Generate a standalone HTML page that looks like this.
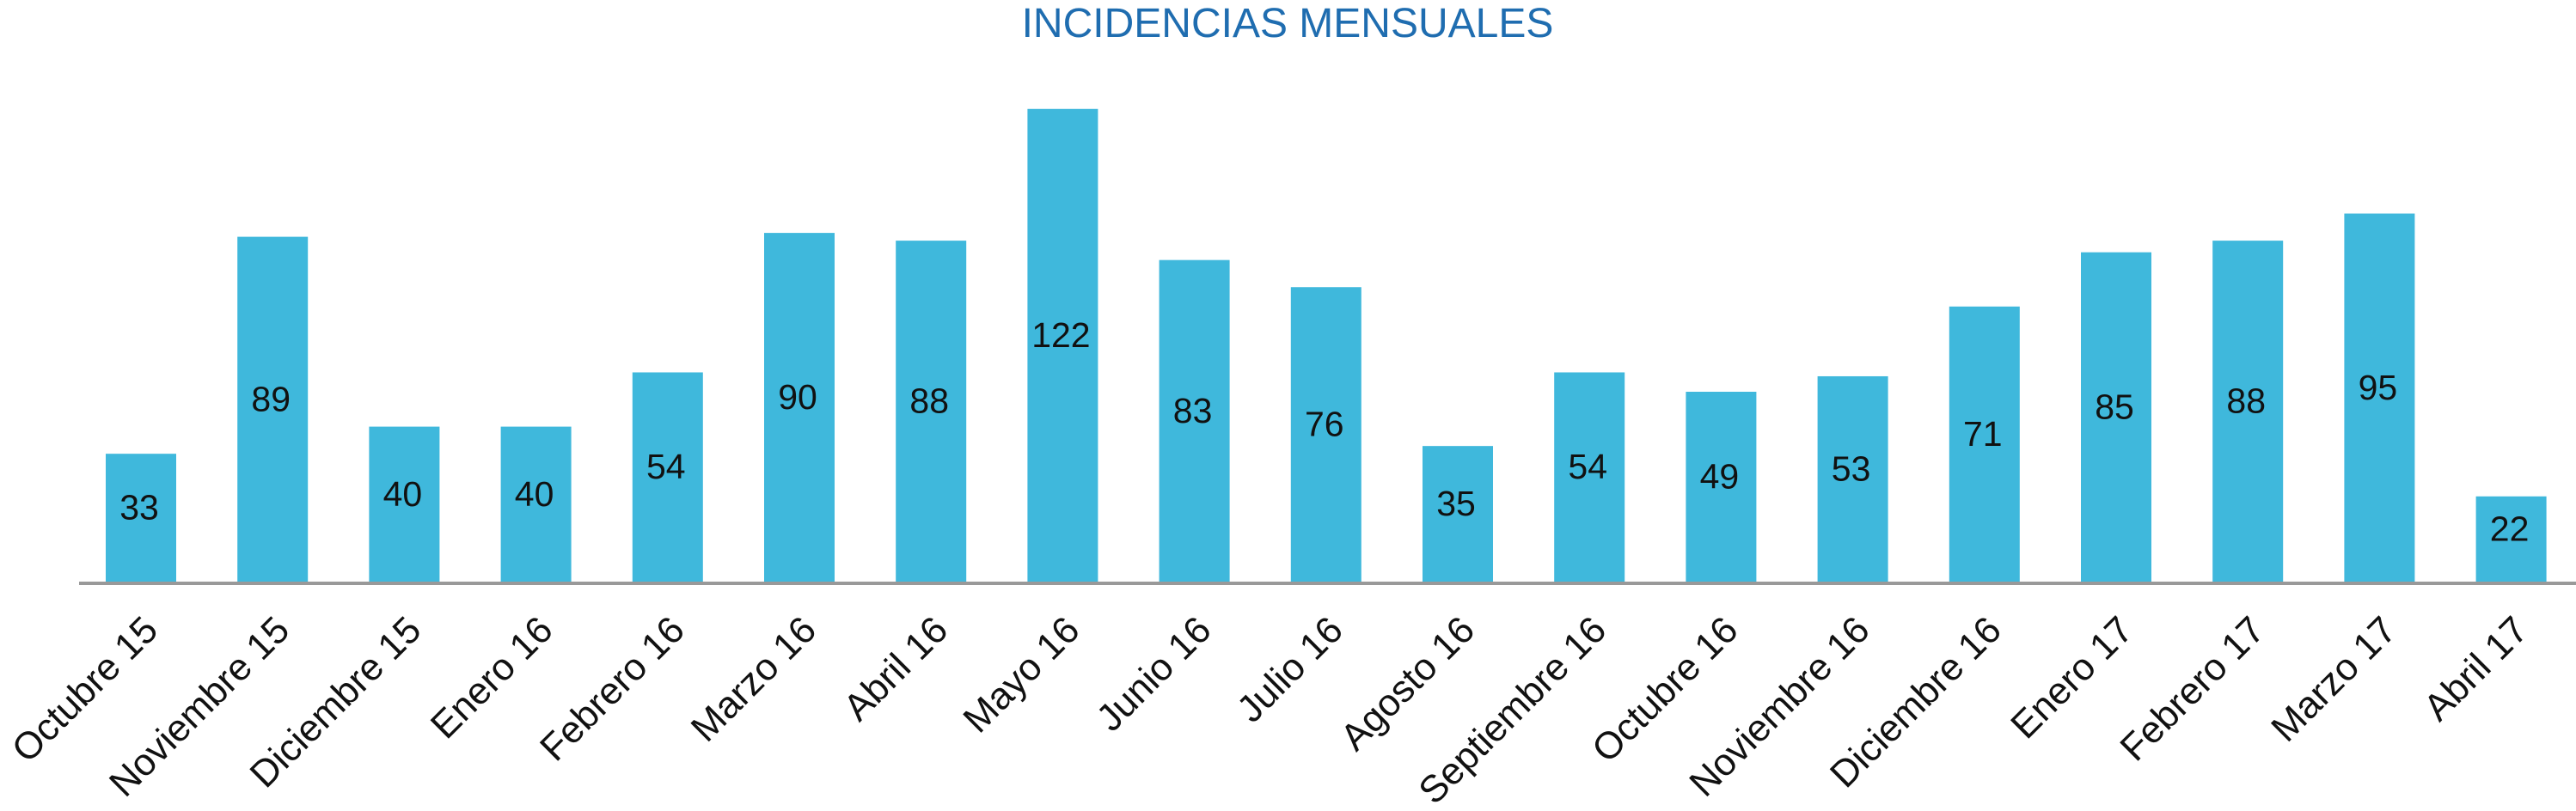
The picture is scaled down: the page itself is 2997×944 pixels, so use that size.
<!DOCTYPE html>
<html><head><meta charset="utf-8"><style>
html,body{margin:0;padding:0;background:#fff;}
svg{display:block;font-family:"Liberation Sans",Arial,sans-serif;}
</style></head><body>
<svg id="chart" width="2997" height="944" viewBox="0 0 2997 944" xmlns="http://www.w3.org/2000/svg">
<text x="1498" y="43" text-anchor="middle" font-size="48" fill="#1f6db0">INCIDENCIAS MENSUALES</text>
<line x1="92" y1="679" x2="2997" y2="679" stroke="#999" stroke-width="4"/>
<g id="bars"></g>
</svg>
<script>
const categories = ["Octubre 15","Noviembre 15","Diciembre 15","Enero 16","Febrero 16","Marzo 16","Abril 16","Mayo 16","Junio 16","Julio 16","Agosto 16","Septiembre 16","Octubre 16","Noviembre 16","Diciembre 16","Enero 17","Febrero 17","Marzo 17","Abril 17"];
const values = [33,89,40,40,54,90,88,122,83,76,35,54,49,53,71,85,88,95,22];

const NS = "http://www.w3.org/2000/svg";
const baseY = 677, unit = 4.51, x0 = 164, step = 153.2, bw = 82;
function xPos(i){ return x0 + i*step; }
function yPos(v){ return baseY - v*unit; }
const g = document.getElementById("bars");
categories.forEach((c,i)=>{
  const v = values[i];
  const r = document.createElementNS(NS,"rect");
  
  
  r.setAttribute("x", xPos(i)-bw/2);
  r.setAttribute("y", yPos(v));
  r.setAttribute("width", bw);
  r.setAttribute("height", baseY - yPos(v));
  r.setAttribute("fill", "#3fb8dc");
  g.appendChild(r);
  const t = document.createElementNS(NS,"text");
  
  
  t.setAttribute("x", xPos(i)-2);
  t.setAttribute("y", (yPos(v)+baseY)/2 + 2);
  t.setAttribute("text-anchor","middle");
  t.setAttribute("font-size","41");
  t.setAttribute("fill","#111");
  t.textContent = v;
  g.appendChild(t);
  const l = document.createElementNS(NS,"text");
  
  
  const lx = xPos(i)+22, ly = 736;
  l.setAttribute("x", lx);
  l.setAttribute("y", ly);
  l.setAttribute("text-anchor","end");
  l.setAttribute("font-size","44");
  l.setAttribute("fill","#111");
  l.setAttribute("transform","rotate(-45 "+lx+" "+ly+")");
  l.textContent = c;
  g.appendChild(l);
});
</script>
</body></html>
